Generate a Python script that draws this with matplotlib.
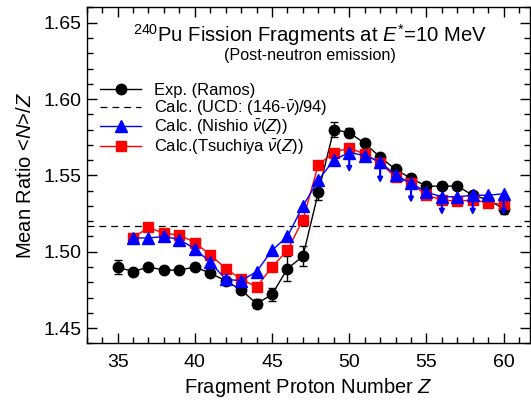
import matplotlib
matplotlib.use("Agg")
import matplotlib.pyplot as plt
from matplotlib.lines import Line2D
from matplotlib.ticker import MultipleLocator, FormatStrFormatter

plt.rcParams["font.family"] = ["Liberation Sans", "DejaVu Sans"]
plt.rcParams["mathtext.fontset"] = "custom"
plt.rcParams["mathtext.rm"] = "Liberation Sans"
plt.rcParams["mathtext.it"] = "Liberation Sans:italic"
plt.rcParams["mathtext.bf"] = "Liberation Sans:bold"

# Experimental <N>/Z (Ramos), Z = 35..60
z_exp = list(range(35, 61))
ratio_exp = [1.490, 1.487, 1.490, 1.488, 1.488, 1.490, 1.486, 1.481, 1.475, 1.466,
             1.472, 1.489, 1.497, 1.539, 1.580, 1.578, 1.571, 1.562, 1.554, 1.548,
             1.543, 1.543, 1.543, 1.537, 1.534, 1.528]
err_exp = [0.0045, 0.002, 0.002, 0.002, 0.002, 0.002, 0.002, 0.002, 0.002, 0.003,
           0.0045, 0.008, 0.0065, 0.005, 0.005, 0.003, 0.002, 0.002, 0.002, 0.002,
           0.002, 0.002, 0.002, 0.002, 0.002, 0.003]

# Calculations, Z = 36..60
z_calc = list(range(36, 61))
ratio_nishio = [1.509, 1.509, 1.510, 1.508, 1.502, 1.493, 1.482, 1.481, 1.487, 1.501,
                1.510, 1.530, 1.547, 1.560, 1.565, 1.563, 1.559, 1.550, 1.545, 1.539,
                1.536, 1.536, 1.537, 1.537, 1.538]
ratio_tsuchiya = [1.509, 1.516, 1.512, 1.511, 1.506, 1.498, 1.489, 1.482, 1.477, 1.490,
                  1.501, 1.521, 1.557, 1.565, 1.568, 1.564, 1.558, 1.549, 1.545, 1.537,
                  1.534, 1.533, 1.534, 1.532, 1.531]

# Downward shifts on selected Nishio points
z_shift = [50, 52, 54, 56, 58, 60]
shift_top = [1.565, 1.559, 1.545, 1.536, 1.537, 1.538]
shift_bottom = [1.552, 1.545, 1.532, 1.524, 1.524, 1.524]

# UCD estimate (146 - nu_bar) / 94
ratio_ucd = 1.517

fig = plt.figure(figsize=(5.31, 4.03), dpi=100)
ax = fig.add_axes([0.1633, 0.148, 0.8347, 0.8354])

dash = (0, (5.5, 4))
ax.axhline(ratio_ucd, color="black", lw=0.9, ls=dash, zorder=1)

ax.errorbar(z_exp, ratio_exp, yerr=err_exp, color="black", marker="o", ms=7.5,
            lw=1.0, capsize=3, elinewidth=1.0, capthick=1.0, zorder=2)
ax.plot(z_calc, ratio_tsuchiya, color="red", marker="s", ms=7, lw=1.0, zorder=3)
ax.plot(z_calc, ratio_nishio, color="blue", marker="^", ms=8, lw=1.0, zorder=4)

for z, top, bot in zip(z_shift, shift_top, shift_bottom):
    ax.annotate("", xy=(z, bot), xytext=(z, top),
                arrowprops=dict(arrowstyle="-|>", color="blue", lw=1.6,
                                mutation_scale=7, shrinkA=0, shrinkB=0),
                zorder=5)

ax.set_xlim(33, 61.7)
ax.set_ylim(1.44, 1.6605)
ax.xaxis.set_major_locator(MultipleLocator(5))
ax.xaxis.set_minor_locator(MultipleLocator(1))
ax.yaxis.set_major_locator(MultipleLocator(0.05))
ax.yaxis.set_minor_locator(MultipleLocator(0.01))
ax.yaxis.set_major_formatter(FormatStrFormatter("%.2f"))
ax.tick_params(which="both", direction="in", top=True, right=True,
               labelsize=14, width=1.0)
ax.tick_params(which="major", length=7)
ax.tick_params(which="minor", length=4.3)
ax.tick_params(axis="x", pad=8)
for s in ax.spines.values():
    s.set_linewidth(1.0)

ax.set_xlabel(r"Fragment Proton Number $Z$", fontsize=14.5, labelpad=3)
ax.set_ylabel(r"Mean Ratio <$N$>/$Z$", fontsize=14.5, labelpad=6)

ax.text(0.504, 0.916, r"$^{240}$Pu Fission Fragments at $E^{*}$=10 MeV",
        transform=ax.transAxes, ha="center", va="center", fontsize=14.6)
ax.text(0.504, 0.856, "(Post-neutron emission)", transform=ax.transAxes,
        ha="center", va="center", fontsize=11.6)

legend_handles = [
    Line2D([], [], color="black", marker="o", ms=7.5, lw=1.0),
    Line2D([], [], color="black", lw=0.9, ls=dash),
    Line2D([], [], color="blue", marker="^", ms=8, lw=1.0),
    Line2D([], [], color="red", marker="s", ms=7, lw=1.0),
]
legend_labels = [
    "Exp. (Ramos)",
    r"Calc. (UCD: (146-$\bar{\nu}$)/94)",
    r"Calc. (Nishio $\bar{\nu}$($Z$))",
    r"Calc.(Tsuchiya $\bar{\nu}$($Z$))",
]
ax.legend(legend_handles, legend_labels, loc="upper left",
          bbox_to_anchor=(0.0, 0.812), frameon=False, fontsize=11.9,
          handlelength=2.5, handletextpad=0.75, labelspacing=0.02,
          borderaxespad=0.4)

fig.savefig("out.png", dpi=100)
